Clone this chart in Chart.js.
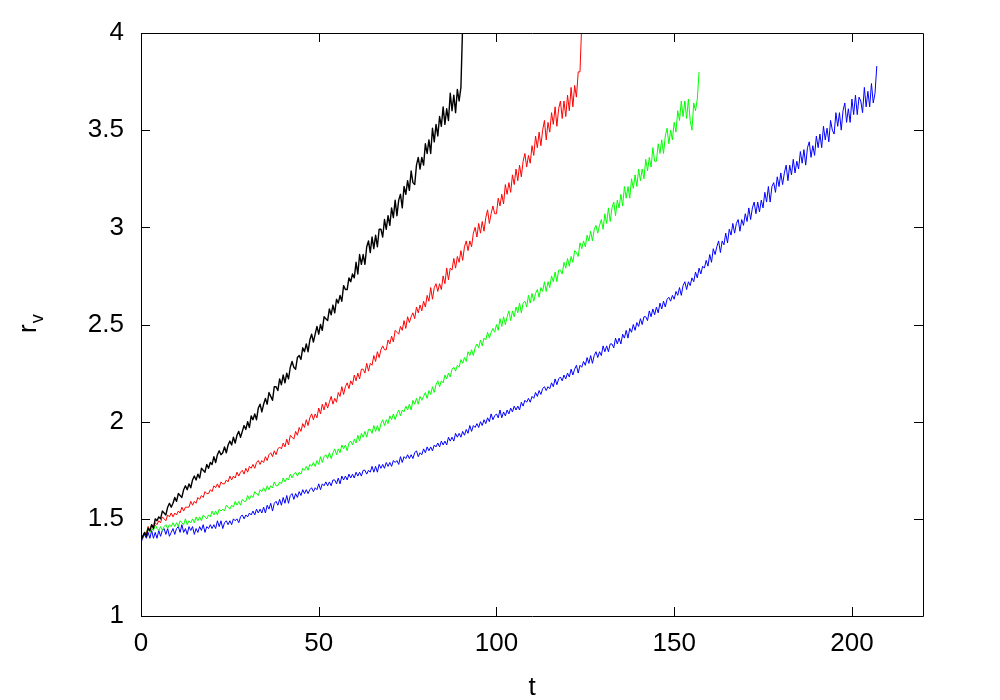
<!DOCTYPE html>
<html>
<head>
<meta charset="utf-8">
<script src="https://cdn.jsdelivr.net/npm/chart.js@4.4.1/dist/chart.umd.min.js"></script>
<style>
html,body{margin:0;padding:0;background:#fff;}
#c{display:block;}
</style>
</head>
<body>
<canvas id="c" width="1000" height="700"></canvas>
<script>
// sampling interval of the time series (t units per sample)
const T_STEP = 0.5;

const xTickValues = [0, 50, 100, 150, 200];
const xTickLabels = ['0', '50', '100', '150', '200'];
const yTickValues = [1, 1.5, 2, 2.5, 3, 3.5, 4];
const yTickLabels = ['1', '1.5', '2', '2.5', '3', '3.5', '4'];
const xTitle = 't';
const yTitleMain = 'r';
const yTitleSub = 'v';

const seriesBlack = [
1.39,1.41,1.43,1.41,1.45,1.44,1.47,1.45,1.50,1.49,
1.51,1.50,1.54,1.53,1.52,1.56,1.58,1.56,1.58,1.61,
1.59,1.63,1.62,1.61,1.65,1.67,1.65,1.68,1.66,1.70,
1.72,1.70,1.73,1.71,1.76,1.75,1.74,1.78,1.76,1.79,
1.78,1.82,1.79,1.83,1.85,1.83,1.84,1.87,1.84,1.88,
1.90,1.88,1.92,1.89,1.93,1.95,1.92,1.95,1.98,1.96,
2.00,1.97,2.03,2.01,2.04,2.01,2.07,2.09,2.05,2.09,
2.12,2.09,2.15,2.13,2.11,2.18,2.18,2.16,2.22,2.19,
2.24,2.20,2.25,2.22,2.28,2.31,2.28,2.27,2.33,2.34,
2.32,2.38,2.36,2.40,2.36,2.42,2.45,2.41,2.45,2.49,
2.45,2.50,2.47,2.54,2.53,2.52,2.58,2.55,2.60,2.56,
2.63,2.61,2.65,2.62,2.70,2.68,2.68,2.74,2.72,2.76,
2.74,2.82,2.76,2.86,2.81,2.86,2.81,2.90,2.93,2.87,
2.95,2.89,2.96,2.90,2.99,2.99,2.95,3.04,2.99,3.06,
3.01,3.10,3.05,3.14,3.06,3.14,3.17,3.10,3.21,3.17,
3.24,3.19,3.29,3.23,3.22,3.32,3.36,3.30,3.36,3.32,
3.43,3.38,3.45,3.38,3.51,3.44,3.53,3.47,3.57,3.52,
3.62,3.53,3.61,3.55,3.69,3.60,3.68,3.59,3.71,3.65,
3.72,4.05
];

const seriesRed = [
1.39,1.41,1.43,1.42,1.46,1.44,1.47,1.46,1.48,1.47,
1.49,1.48,1.51,1.50,1.49,1.52,1.51,1.53,1.51,1.53,
1.52,1.54,1.53,1.56,1.54,1.56,1.56,1.56,1.59,1.57,
1.59,1.58,1.61,1.60,1.62,1.61,1.64,1.63,1.63,1.65,
1.64,1.67,1.66,1.68,1.66,1.69,1.68,1.68,1.70,1.69,
1.72,1.70,1.72,1.71,1.74,1.72,1.74,1.75,1.73,1.76,
1.74,1.77,1.76,1.78,1.76,1.79,1.80,1.78,1.80,1.79,
1.82,1.80,1.83,1.84,1.82,1.85,1.83,1.86,1.87,1.86,
1.89,1.87,1.91,1.88,1.93,1.92,1.91,1.95,1.93,1.97,
1.95,1.99,1.97,2.01,1.98,2.02,2.04,2.01,2.04,2.02,
2.07,2.04,2.09,2.06,2.10,2.07,2.10,2.13,2.09,2.12,
2.10,2.15,2.13,2.18,2.14,2.18,2.20,2.17,2.21,2.19,
2.24,2.21,2.25,2.22,2.27,2.27,2.25,2.30,2.26,2.30,
2.29,2.34,2.31,2.36,2.33,2.37,2.39,2.37,2.37,2.42,
2.40,2.44,2.41,2.47,2.46,2.45,2.49,2.47,2.52,2.48,
2.54,2.51,2.54,2.56,2.53,2.59,2.56,2.60,2.57,2.62,
2.59,2.65,2.62,2.69,2.63,2.69,2.71,2.67,2.71,2.68,
2.75,2.71,2.79,2.73,2.79,2.78,2.84,2.79,2.85,2.82,
2.88,2.83,2.90,2.93,2.88,2.93,2.90,2.97,3.00,2.95,
3.02,2.97,3.03,2.98,3.05,3.09,3.02,3.07,3.11,3.07,
3.07,3.15,3.11,3.17,3.12,3.22,3.17,3.23,3.18,3.27,
3.22,3.30,3.24,3.32,3.26,3.34,3.38,3.31,3.37,3.33,
3.42,3.37,3.47,3.41,3.49,3.42,3.50,3.55,3.45,3.54,
3.49,3.59,3.53,3.62,3.52,3.61,3.65,3.56,3.65,3.57,
3.68,3.60,3.72,3.62,3.73,3.67,3.80,3.80,4.05
];

const seriesGreen = [
1.39,1.41,1.43,1.43,1.46,1.43,1.45,1.44,1.47,1.45,
1.44,1.46,1.44,1.46,1.47,1.45,1.47,1.46,1.48,1.46,
1.48,1.46,1.49,1.48,1.47,1.50,1.47,1.49,1.48,1.50,
1.48,1.51,1.49,1.51,1.49,1.52,1.51,1.50,1.52,1.51,
1.54,1.52,1.54,1.52,1.55,1.54,1.55,1.54,1.57,1.56,
1.55,1.57,1.56,1.59,1.57,1.59,1.57,1.60,1.59,1.59,
1.62,1.60,1.62,1.61,1.64,1.63,1.62,1.65,1.64,1.66,
1.64,1.67,1.65,1.67,1.66,1.69,1.67,1.67,1.69,1.68,
1.71,1.69,1.71,1.70,1.73,1.71,1.73,1.74,1.72,1.74,
1.73,1.76,1.75,1.77,1.75,1.78,1.77,1.79,1.77,1.80,
1.78,1.82,1.79,1.82,1.83,1.81,1.84,1.81,1.84,1.86,
1.83,1.86,1.84,1.88,1.86,1.88,1.85,1.89,1.90,1.88,
1.91,1.89,1.93,1.90,1.94,1.92,1.95,1.92,1.96,1.96,
1.94,1.98,1.95,1.98,1.95,1.99,2.01,1.98,2.01,1.99,
2.03,2.01,2.04,2.01,2.04,2.06,2.03,2.06,2.05,2.08,
2.06,2.09,2.06,2.11,2.09,2.12,2.09,2.13,2.11,2.13,
2.15,2.12,2.16,2.14,2.18,2.15,2.19,2.21,2.18,2.21,
2.20,2.24,2.22,2.25,2.23,2.27,2.28,2.26,2.29,2.28,
2.32,2.30,2.33,2.31,2.36,2.34,2.37,2.34,2.38,2.40,
2.38,2.42,2.39,2.43,2.42,2.46,2.43,2.46,2.48,2.46,
2.50,2.47,2.53,2.49,2.54,2.50,2.54,2.57,2.52,2.57,
2.54,2.59,2.56,2.61,2.56,2.61,2.62,2.59,2.65,2.61,
2.66,2.62,2.66,2.68,2.64,2.69,2.67,2.72,2.67,2.72,
2.69,2.75,2.72,2.77,2.72,2.78,2.78,2.76,2.82,2.79,
2.84,2.80,2.85,2.82,2.88,2.87,2.85,2.92,2.89,2.93,
2.90,2.96,2.93,2.98,2.93,2.99,3.01,2.97,3.01,3.04,
2.99,3.07,3.02,3.10,3.03,3.10,3.13,3.06,3.14,3.10,
3.17,3.11,3.21,3.15,3.21,3.15,3.25,3.20,3.27,3.21,
3.30,3.24,3.30,3.25,3.35,3.29,3.36,3.31,3.41,3.34,
3.34,3.43,3.38,3.45,3.38,3.47,3.51,3.43,3.50,3.45,
3.54,3.49,3.60,3.55,3.65,3.57,3.65,3.56,3.66,3.55,
3.50,3.64,3.60,3.66,3.80
];

const seriesBlue = [
1.38,1.40,1.42,1.40,1.43,1.40,1.44,1.40,1.43,1.40,
1.44,1.41,1.44,1.45,1.42,1.45,1.41,1.43,1.45,1.42,
1.45,1.46,1.43,1.47,1.43,1.45,1.42,1.46,1.44,1.46,
1.42,1.45,1.43,1.46,1.44,1.47,1.43,1.46,1.45,1.47,
1.45,1.47,1.45,1.49,1.46,1.49,1.45,1.48,1.49,1.47,
1.49,1.47,1.50,1.49,1.50,1.48,1.51,1.52,1.50,1.52,
1.51,1.53,1.52,1.54,1.52,1.55,1.53,1.55,1.53,1.56,
1.53,1.57,1.55,1.58,1.54,1.58,1.59,1.57,1.60,1.57,
1.61,1.58,1.62,1.58,1.62,1.63,1.60,1.63,1.61,1.64,
1.62,1.65,1.63,1.65,1.63,1.65,1.66,1.64,1.66,1.65,
1.68,1.65,1.68,1.67,1.69,1.67,1.69,1.67,1.70,1.70,
1.68,1.71,1.68,1.72,1.70,1.72,1.70,1.73,1.71,1.73,
1.71,1.74,1.72,1.74,1.72,1.75,1.75,1.73,1.75,1.74,
1.77,1.74,1.77,1.74,1.78,1.76,1.78,1.76,1.79,1.77,
1.79,1.77,1.80,1.79,1.80,1.78,1.82,1.79,1.82,1.81,
1.83,1.81,1.83,1.81,1.84,1.85,1.82,1.84,1.83,1.86,
1.84,1.87,1.85,1.87,1.85,1.88,1.87,1.89,1.87,1.90,
1.88,1.90,1.88,1.92,1.90,1.92,1.90,1.94,1.92,1.94,
1.92,1.95,1.93,1.96,1.94,1.98,1.95,1.98,1.97,1.99,
1.97,2.00,1.98,2.01,1.99,2.02,2.00,2.04,2.01,2.03,
2.04,2.02,2.06,2.02,2.05,2.03,2.06,2.04,2.07,2.05,
2.08,2.06,2.08,2.06,2.10,2.08,2.11,2.10,2.12,2.10,
2.13,2.12,2.15,2.13,2.16,2.14,2.17,2.18,2.16,2.18,
2.17,2.20,2.18,2.22,2.19,2.22,2.23,2.21,2.24,2.22,
2.25,2.23,2.27,2.24,2.27,2.29,2.25,2.29,2.28,2.31,
2.29,2.33,2.30,2.34,2.30,2.34,2.36,2.33,2.36,2.34,
2.39,2.36,2.39,2.36,2.40,2.40,2.38,2.43,2.40,2.43,
2.40,2.45,2.43,2.47,2.43,2.48,2.46,2.50,2.47,2.51,
2.49,2.53,2.50,2.54,2.54,2.52,2.57,2.54,2.58,2.55,
2.59,2.56,2.61,2.58,2.62,2.59,2.63,2.64,2.62,2.65,
2.63,2.67,2.65,2.69,2.65,2.70,2.72,2.68,2.72,2.70,
2.74,2.72,2.77,2.74,2.79,2.76,2.80,2.79,2.83,2.80,
2.86,2.82,2.89,2.86,2.90,2.93,2.87,2.93,2.91,2.97,
2.92,2.99,2.96,3.02,2.97,3.02,3.04,2.98,3.04,3.01,
3.07,3.03,3.10,3.04,3.10,3.13,3.07,3.13,3.08,3.14,
3.10,3.18,3.13,3.21,3.13,3.21,3.23,3.18,3.26,3.21,
3.28,3.22,3.28,3.32,3.24,3.32,3.27,3.35,3.28,3.34,
3.30,3.39,3.33,3.40,3.32,3.41,3.44,3.36,3.42,3.37,
3.47,3.41,3.48,3.41,3.52,3.45,3.51,3.44,3.55,3.50,
3.48,3.59,3.52,3.59,3.50,3.60,3.64,3.54,3.61,3.54,
3.66,3.58,3.68,3.58,3.67,3.65,3.59,3.72,3.62,3.70,
3.62,3.74,3.64,3.69,3.83
];

const seriesList = [
  { name: 'black', values: seriesBlack, color: '#000000', width: 1.4 },
  { name: 'red',   values: seriesRed,   color: '#ff0000', width: 1 },
  { name: 'green', values: seriesGreen, color: '#00ff00', width: 1 },
  { name: 'blue',  values: seriesBlue,  color: '#0000ff', width: 1 }
];

const FONT = '"Liberation Sans", Arial, Helvetica, sans-serif';
const TICK_LEN = 9;

const frameAndTicks = {
  id: 'frameAndTicks',
  afterDatasetsDraw(chart) {
    const ctx = chart.ctx;
    const a = chart.chartArea;
    const xs = chart.scales.x, ys = chart.scales.y;
    ctx.save();
    ctx.strokeStyle = '#000';
    ctx.lineWidth = 1;
    ctx.beginPath();
    ctx.rect(Math.round(a.left) + 0.5, Math.round(a.top) + 0.5,
             Math.round(a.right - a.left), Math.round(a.bottom - a.top));
    xTickValues.forEach(v => {
      const px = Math.round(xs.getPixelForValue(v)) + 0.5;
      ctx.moveTo(px, a.bottom); ctx.lineTo(px, a.bottom - TICK_LEN);
      ctx.moveTo(px, a.top); ctx.lineTo(px, a.top + TICK_LEN);
    });
    yTickValues.forEach(v => {
      const py = Math.round(ys.getPixelForValue(v)) + 0.5;
      ctx.moveTo(a.left, py); ctx.lineTo(a.left + TICK_LEN, py);
      ctx.moveTo(a.right, py); ctx.lineTo(a.right - TICK_LEN, py);
    });
    ctx.stroke();

    // axis titles
    ctx.fillStyle = '#000';
    ctx.font = '26px ' + FONT;
    ctx.textAlign = 'center';
    ctx.textBaseline = 'alphabetic';
    ctx.fillText(xTitle, (a.left + a.right) / 2, 695);

    ctx.translate(36, 333);
    ctx.rotate(-Math.PI / 2);
    ctx.textAlign = 'left';
    ctx.font = '26px ' + FONT;
    ctx.fillText(yTitleMain, 0, 0);
    const w = ctx.measureText(yTitleMain).width;
    ctx.font = '18px ' + FONT;
    ctx.fillText(yTitleSub, w + 1, 7);
    ctx.restore();
  }
};

new Chart(document.getElementById('c'), {
  type: 'line',
  data: {
    datasets: seriesList.map(s => ({
      label: s.name,
      data: s.values.map((v, i) => ({ x: i * T_STEP, y: v })),
      borderColor: s.color,
      borderWidth: s.width,
      pointRadius: 0,
      tension: 0,
      fill: false,
      borderJoinStyle: 'round'
    }))
  },
  options: {
    responsive: false,
    animation: false,
    devicePixelRatio: 1,
    layout: { padding: { top: 33, right: 77, left: 0, bottom: 0 } },
    plugins: { legend: { display: false }, tooltip: { enabled: false } },
    scales: {
      x: {
        type: 'linear',
        min: 0, max: 220,
        afterFit(s) { s.height = 84; },
        afterBuildTicks(s) { s.ticks = xTickValues.map(v => ({ value: v })); },
        grid: { display: false, drawTicks: false },
        border: { display: false },
        ticks: {
          color: '#000', padding: 12, maxRotation: 0,
          font: { family: FONT, size: 26 },
          callback: (v) => { const i = xTickValues.indexOf(v); return i >= 0 ? xTickLabels[i] : ''; }
        }
      },
      y: {
        type: 'linear',
        min: 1, max: 4,
        afterFit(s) { s.width = 141; },
        afterBuildTicks(s) { s.ticks = yTickValues.map(v => ({ value: v })); },
        grid: { display: false, drawTicks: false },
        border: { display: false },
        ticks: {
          color: '#000', padding: 17,
          font: { family: FONT, size: 26 },
          callback: (v) => { const i = yTickValues.indexOf(v); return i >= 0 ? yTickLabels[i] : ''; }
        }
      }
    }
  },
  plugins: [frameAndTicks]
});
</script>
</body>
</html>
